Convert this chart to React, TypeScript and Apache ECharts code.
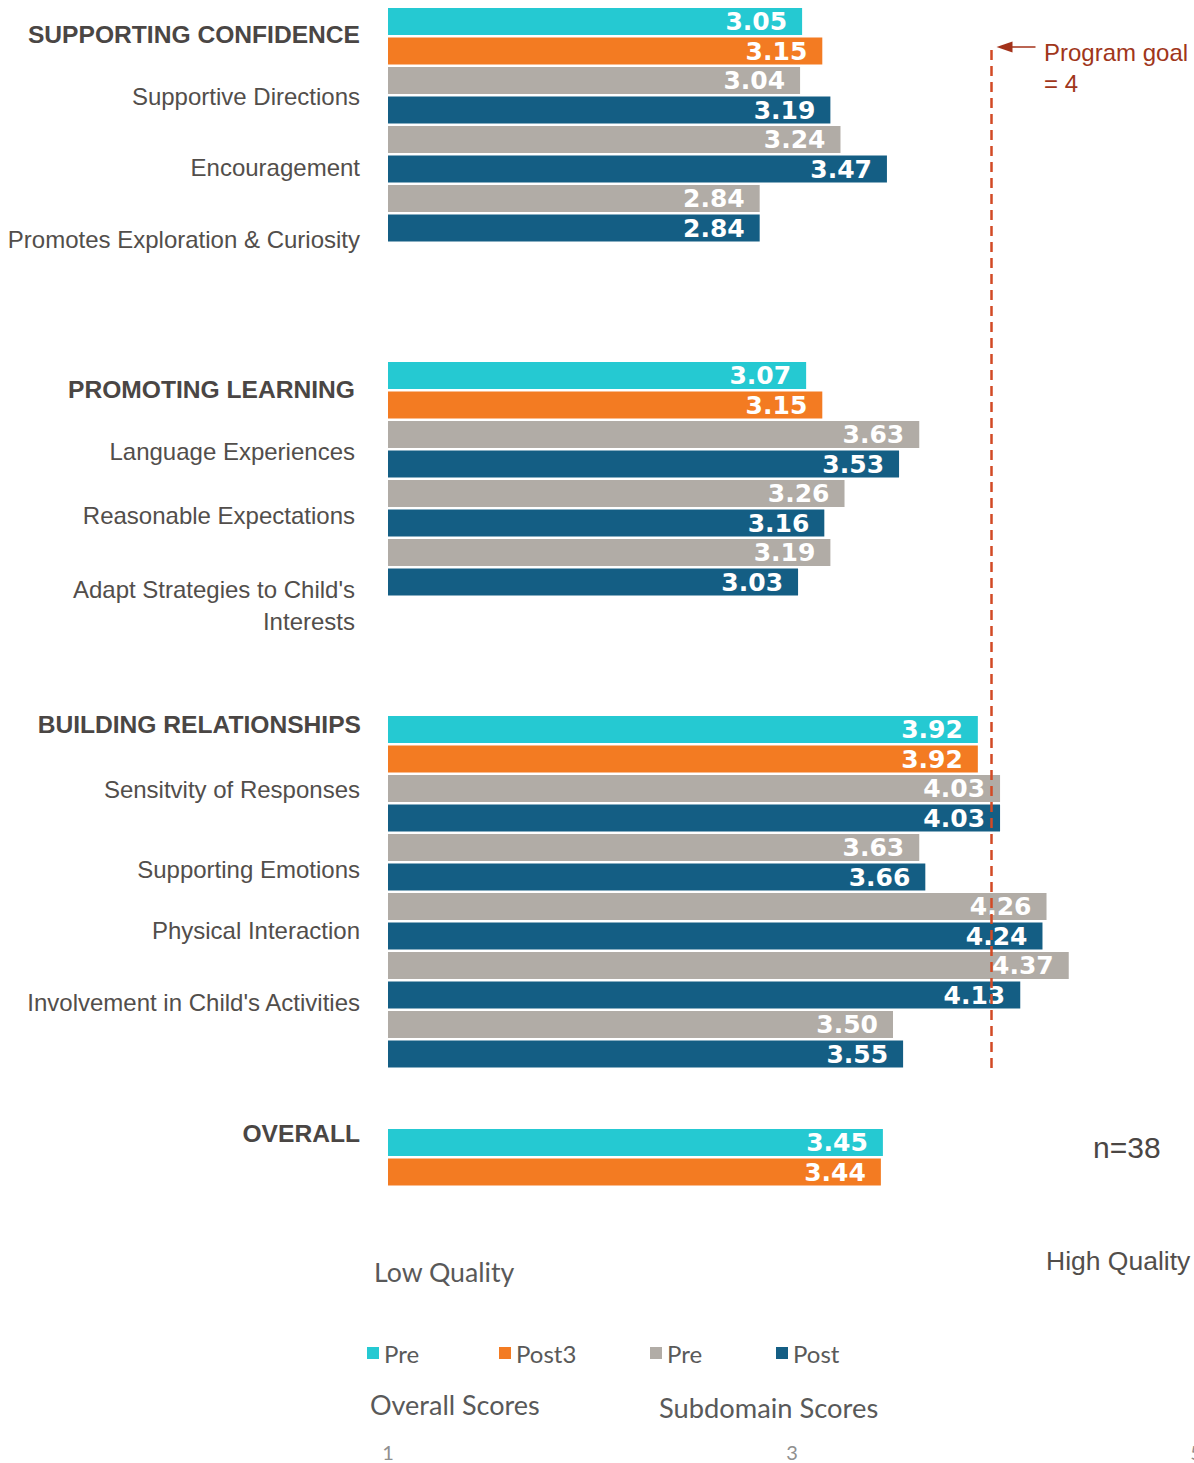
import React, { useEffect, useRef } from "react";
import * as echarts from "echarts";

// ---------------- data ----------------
const domainNames = ["SUPPORTING CONFIDENCE", "PROMOTING LEARNING", "BUILDING RELATIONSHIPS", "OVERALL"];
const overallPre = [3.05, 3.07, 3.92, 3.45];
const overallPost3 = [3.15, 3.15, 3.92, 3.44];
const subdomainPre = [3.04, 3.24, 2.84, 3.63, 3.26, 3.19, 4.03, 3.63, 4.26, 4.37, 3.5];
const subdomainPost = [3.19, 3.47, 2.84, 3.53, 3.16, 3.03, 4.03, 3.66, 4.24, 4.13, 3.55];
const pairsPerDomain = [3, 3, 5, 0];
const spacerRowsAfter = [4, 4, 2, 0];
const xTickLabels = [1, 3, 5];
const programGoal = 4;
const sampleSize = "n=38";

const seriesNames = ["Pre (overall)", "Post3", "Pre (subdomain)", "Post"];
const legendTexts = ["Pre", "Post3", "Pre", "Post"];
const seriesColors = ["#25C9D2", "#F37B22", "#B1ACA6", "#145E84"];

// label texts with their layout
const rowLabels = [
  { text: "SUPPORTING CONFIDENCE", x: 360, y: 34, bold: true },
  { text: "Supportive Directions", x: 360, y: 96 },
  { text: "Encouragement", x: 360, y: 167 },
  { text: "Promotes Exploration & Curiosity", x: 360, y: 239 },
  { text: "PROMOTING LEARNING", x: 355, y: 389, bold: true },
  { text: "Language Experiences", x: 355, y: 451 },
  { text: "Reasonable Expectations", x: 355, y: 515 },
  { text: "Adapt Strategies to Child's", x: 355, y: 589 },
  { text: "Interests", x: 355, y: 621 },
  { text: "BUILDING RELATIONSHIPS", x: 361, y: 724, bold: true },
  { text: "Sensitvity of Responses", x: 360, y: 789 },
  { text: "Supporting Emotions", x: 360, y: 869 },
  { text: "Physical Interaction", x: 360, y: 930 },
  { text: "Involvement in Child's Activities", x: 360, y: 1002 },
  { text: "OVERALL", x: 360, y: 1133, bold: true },
];

// ---------------- rows ----------------
type Row = { key: string; s: number; v: number | null };
const rows: Row[] = [];
{
  let sub = 0;
  domainNames.forEach((d, i) => {
    rows.push({ key: `${d} pre`, s: 0, v: overallPre[i] });
    rows.push({ key: `${d} post3`, s: 1, v: overallPost3[i] });
    for (let p = 0; p < pairsPerDomain[i]; p++) {
      rows.push({ key: `${d} sub${p} pre`, s: 2, v: subdomainPre[sub] });
      rows.push({ key: `${d} sub${p} post`, s: 3, v: subdomainPost[sub] });
      sub++;
    }
    for (let g = 0; g < spacerRowsAfter[i]; g++) rows.push({ key: `${d} gap${g}`, s: -1, v: null });
  });
}
const categories = rows.map((r) => r.key);

const LABEL_FONT = '"Liberation Sans", Arial, sans-serif';
const SOFT_FONT = 'Lato, "Open Sans", sans-serif';

export default function App() {
  const ref = useRef<HTMLDivElement>(null);
  useEffect(() => {
    if (!ref.current) return;
    const chart = echarts.init(ref.current, null, { renderer: "svg" });
    const legendLefts = [367, 499, 650, 776];
    const option: any = {
      animation: false,
      backgroundColor: "#ffffff",
      grid: {
        left: 388,
        top: 6.75,
        width: 808,
        height: 1180,
        containLabel: false,
        outerBoundsMode: "none",
      },
      xAxis: {
        type: "value",
        min: 1,
        max: 5,
        interval: 1,
        position: "bottom",
        offset: 247,
        axisLine: { show: false },
        axisTick: { show: false },
        splitLine: { show: false },
        axisLabel: {
          margin: 8,
          color: "#8f8f8f",
          fontFamily: SOFT_FONT,
          fontSize: 20,
          showMinLabel: true,
          showMaxLabel: true,
          hideOverlap: false,
          formatter: (v: number) => (xTickLabels.includes(v) ? String(v) : ""),
        },
      },
      yAxis: {
        type: "category",
        data: categories,
        inverse: true,
        axisLine: { show: false },
        axisTick: { show: false },
        axisLabel: { show: false },
        splitLine: { show: false },
      },
      legend: seriesNames.map((n, i) => ({
        data: [n],
        left: legendLefts[i],
        top: 1341,
        itemWidth: 12,
        itemHeight: 12,
        icon: "rect",
        padding: 0,
        selectedMode: false,
        formatter: () => legendTexts[i],
        textStyle: { color: "#595959", fontFamily: SOFT_FONT, fontSize: 24 },
      })),
      series: seriesNames.map((n, k) => ({
        name: n,
        type: "bar",
        barWidth: 27,
        barGap: "-100%",
        itemStyle: { color: seriesColors[k] },
        data: rows.map((r) => (r.s === k ? r.v : null)),
        label: {
          show: true,
          position: "insideRight",
          distance: 15,
          color: "#ffffff",
          fontFamily: '"DejaVu Sans", sans-serif',
          fontWeight: "bold",
          fontSize: 25,
          formatter: (p: any) => (p.value == null ? "" : Number(p.value).toFixed(2)),
        },
      })),
    };
    chart.setOption(option);
    // the goal line in the reference sits a hair left of the exact value position
    const gx = (chart.convertToPixel({ xAxisIndex: 0 }, programGoal) as number) - 2.5;

    const graphic: any[] = [];
    rowLabels.forEach((l) => {
      graphic.push({
        type: "text",
        x: l.x,
        y: l.y,
        style: {
          text: l.text,
          fill: l.bold ? "#4a4644" : "#524e4b",
          font: `${l.bold ? "bold 24.6px" : "24px"} ${LABEL_FONT}`,
          align: "right",
          verticalAlign: "middle",
        },
      });
    });
    graphic.push({
      type: "line",
      z: 100,
      shape: { x1: gx, y1: 50, x2: gx, y2: 1070 },
      style: { stroke: "#D24A25", lineWidth: 2.5, lineDash: [10, 6] },
    });
    graphic.push({
      type: "line",
      z: 100,
      shape: { x1: gx + 16, y1: 47, x2: gx + 44, y2: 47 },
      style: { stroke: "#A3321A", lineWidth: 1.5 },
    });
    graphic.push({
      type: "polygon",
      z: 100,
      shape: { points: [[gx + 5, 47], [gx + 21, 41.5], [gx + 21, 52.5]] },
      style: { fill: "#A3321A" },
    });
    graphic.push({
      type: "text",
      x: 1044,
      y: 52,
      style: { text: "Program goal", fill: "#A0361B", font: `24px ${LABEL_FONT}`, verticalAlign: "middle" },
    });
    graphic.push({
      type: "text",
      x: 1044,
      y: 83,
      style: { text: "= 4", fill: "#A0361B", font: `24px ${LABEL_FONT}`, verticalAlign: "middle" },
    });
    graphic.push({
      type: "text",
      x: 1093,
      y: 1147,
      style: { text: sampleSize, fill: "#4a4644", font: `30px ${LABEL_FONT}`, verticalAlign: "middle" },
    });
    graphic.push({
      type: "text",
      x: 1046,
      y: 1261,
      style: { text: "High Quality", fill: "#524e4b", font: `26.5px ${LABEL_FONT}`, verticalAlign: "middle" },
    });
    graphic.push({
      type: "text",
      x: 374,
      y: 1272,
      style: { text: "Low Quality", fill: "#595959", font: `26.7px ${SOFT_FONT}`, verticalAlign: "middle" },
    });
    graphic.push({
      type: "text",
      x: 370,
      y: 1404,
      style: { text: "Overall Scores", fill: "#595959", font: `27px ${SOFT_FONT}`, verticalAlign: "middle" },
    });
    graphic.push({
      type: "text",
      x: 659,
      y: 1407,
      style: { text: "Subdomain Scores", fill: "#595959", font: `27.3px ${SOFT_FONT}`, verticalAlign: "middle" },
    });
    chart.setOption({ graphic });
    return () => chart.dispose();
  }, []);
  return (
    <div
      ref={ref}
      style={{ position: "absolute", left: 0, top: 0, width: 1194, height: 1463, background: "#fff" }}
    />
  );
}
